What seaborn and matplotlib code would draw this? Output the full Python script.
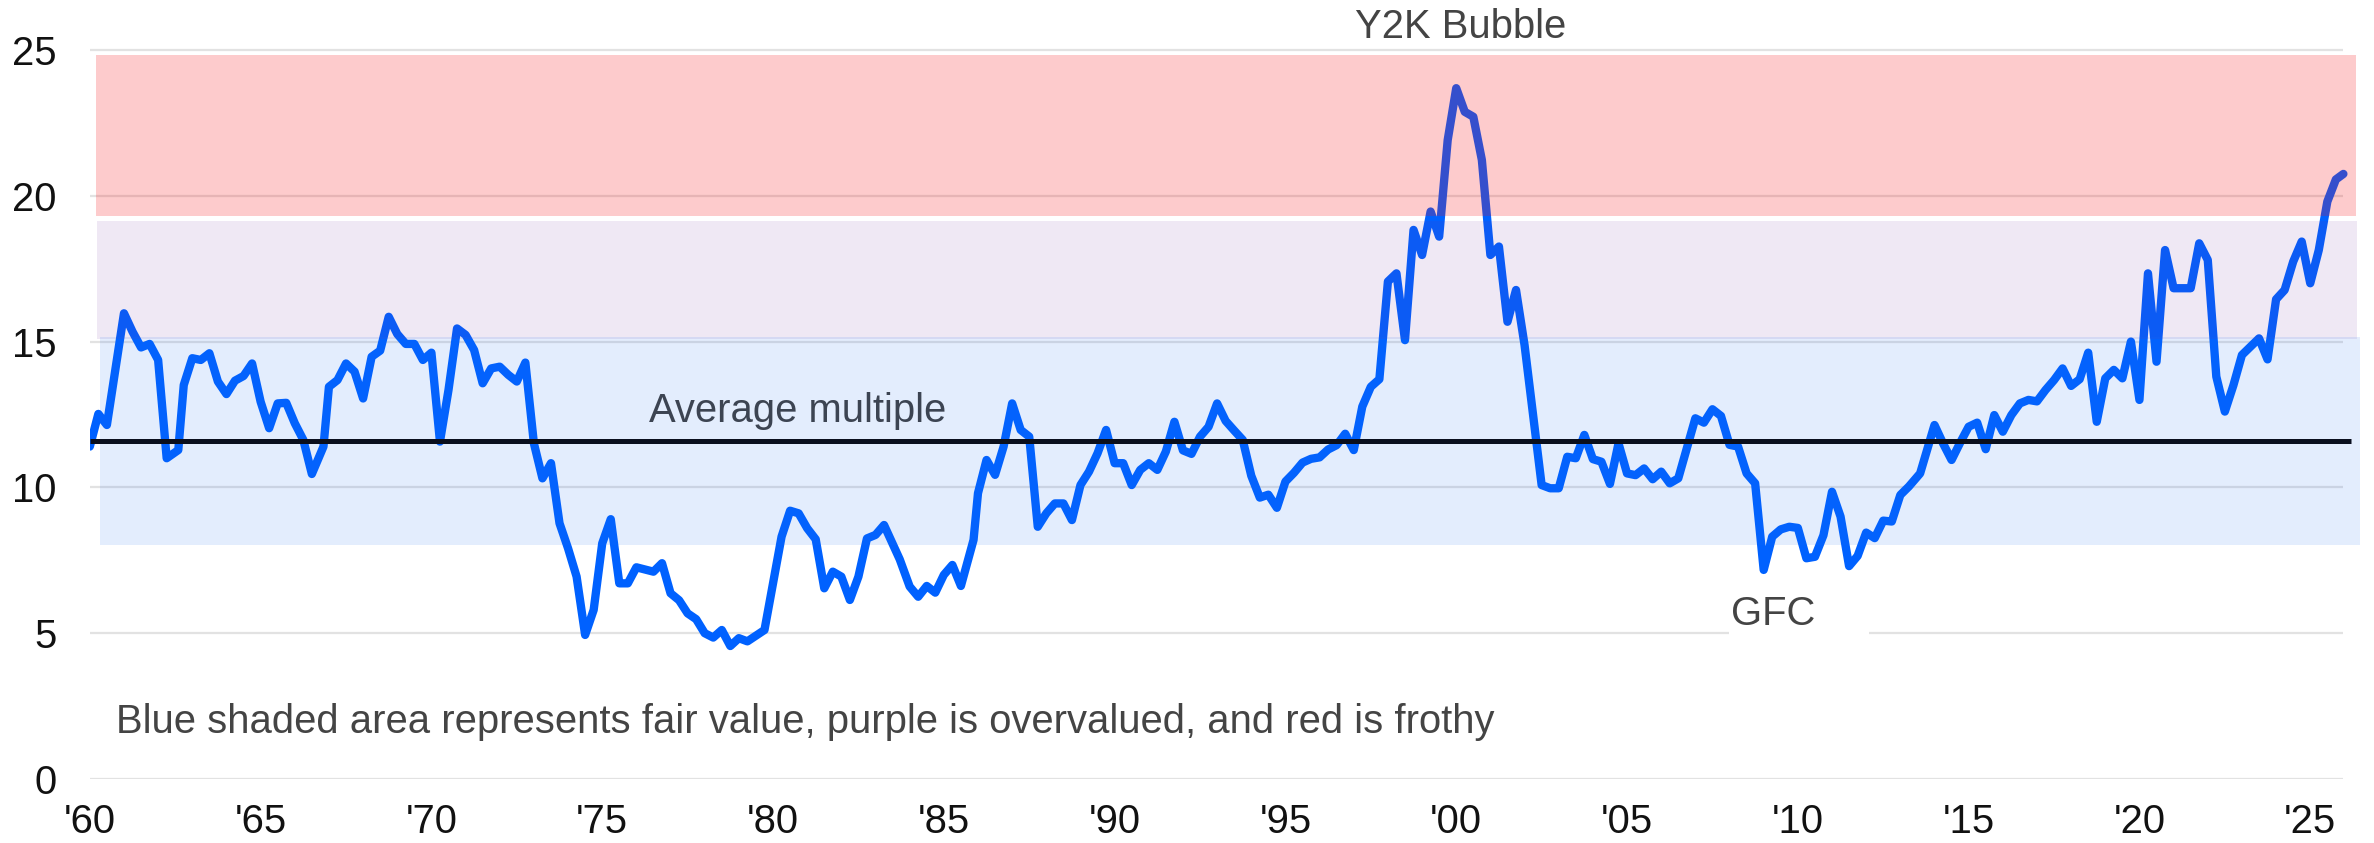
import matplotlib
matplotlib.use("Agg")
import matplotlib.pyplot as plt
import seaborn as sns
import pandas as pd
from matplotlib.patches import Rectangle

# ---------------- data ----------------
years = [
    1960.0, 1960.25, 1960.5, 1961.0, 1961.25, 1961.5, 1961.75, 1962.0, 1962.25, 1962.59,
    1962.75, 1963.0, 1963.25, 1963.5, 1963.75, 1964.0, 1964.25, 1964.5, 1964.75, 1965.0,
    1965.25, 1965.5, 1965.75, 1966.0, 1966.25, 1966.5, 1966.84, 1967.0, 1967.25, 1967.5,
    1967.75, 1968.0, 1968.25, 1968.5, 1968.75, 1969.0, 1969.25, 1969.5, 1969.75, 1970.0,
    1970.25, 1970.5, 1970.75, 1971.0, 1971.25, 1971.5, 1971.75, 1972.0, 1972.25, 1972.5,
    1972.75, 1973.0, 1973.25, 1973.5, 1973.75, 1974.0, 1974.25, 1974.5, 1974.75, 1975.0,
    1975.25, 1975.5, 1975.75, 1976.0, 1976.5, 1976.75, 1977.0, 1977.25, 1977.5, 1977.75,
    1978.0, 1978.25, 1978.5, 1978.75, 1979.0, 1979.25, 1979.75, 1980.0, 1980.25, 1980.5,
    1980.75, 1981.0, 1981.25, 1981.5, 1981.75, 1982.0, 1982.25, 1982.5, 1982.75, 1983.0,
    1983.25, 1983.71, 1984.0, 1984.25, 1984.5, 1984.75, 1985.0, 1985.25, 1985.5, 1985.87,
    1986.0, 1986.25, 1986.5, 1986.75, 1987.0, 1987.25, 1987.5, 1987.75, 1988.0, 1988.25,
    1988.5, 1988.75, 1989.0, 1989.25, 1989.5, 1989.75, 1990.0, 1990.25, 1990.5, 1990.75,
    1991.0, 1991.25, 1991.5, 1991.75, 1992.0, 1992.25, 1992.5, 1992.75, 1993.0, 1993.25,
    1993.5, 1993.75, 1994.0, 1994.25, 1994.5, 1994.75, 1995.0, 1995.25, 1995.5, 1995.75,
    1996.0, 1996.25, 1996.5, 1996.75, 1997.0, 1997.25, 1997.5, 1997.75, 1998.0, 1998.25,
    1998.5, 1998.75, 1999.0, 1999.25, 1999.5, 1999.75, 2000.0, 2000.25, 2000.5, 2000.75,
    2001.0, 2001.25, 2001.5, 2001.75, 2002.0, 2002.5, 2002.75, 2003.0, 2003.25, 2003.5,
    2003.75, 2004.0, 2004.25, 2004.5, 2004.75, 2005.0, 2005.25, 2005.5, 2005.75, 2006.0,
    2006.25, 2006.5, 2007.0, 2007.25, 2007.5, 2007.75, 2008.0, 2008.25, 2008.5, 2008.75,
    2009.0, 2009.25, 2009.5, 2009.75, 2010.0, 2010.25, 2010.5, 2010.75, 2011.0, 2011.25,
    2011.5, 2011.75, 2012.0, 2012.25, 2012.5, 2012.75, 2013.0, 2013.25, 2013.58, 2014.0,
    2014.25, 2014.5, 2014.75, 2015.0, 2015.25, 2015.5, 2015.75, 2016.0, 2016.25, 2016.5,
    2016.75, 2017.0, 2017.25, 2017.5, 2017.75, 2018.0, 2018.25, 2018.5, 2018.75, 2019.0,
    2019.25, 2019.5, 2019.75, 2020.0, 2020.25, 2020.5, 2020.75, 2021.0, 2021.5, 2021.75,
    2022.0, 2022.25, 2022.5, 2022.75, 2023.0, 2023.5, 2023.75, 2024.0, 2024.25, 2024.5,
    2024.75, 2025.0, 2025.25, 2025.5, 2025.75, 2025.97,
]
multiple = [
    11.40, 12.52, 12.14, 15.97, 15.34, 14.80, 14.92, 14.37, 11.00, 11.28,
    13.51, 14.43, 14.37, 14.60, 13.63, 13.20, 13.66, 13.82, 14.25, 12.94,
    12.03, 12.88, 12.90, 12.20, 11.63, 10.46, 11.40, 13.45, 13.68, 14.25,
    13.97, 13.05, 14.48, 14.69, 15.85, 15.26, 14.92, 14.92, 14.37, 14.62,
    11.57, 13.34, 15.45, 15.23, 14.71, 13.57, 14.08, 14.14, 13.86, 13.63,
    14.28, 11.51, 10.31, 10.83, 8.77, 7.91, 6.94, 4.94, 5.80, 8.08,
    8.91, 6.71, 6.71, 7.26, 7.11, 7.40, 6.37, 6.13, 5.68, 5.48,
    5.00, 4.85, 5.11, 4.56, 4.83, 4.72, 5.11, 6.71, 8.31, 9.20,
    9.11, 8.60, 8.22, 6.54, 7.11, 6.94, 6.14, 6.94, 8.25, 8.37,
    8.71, 7.53, 6.60, 6.25, 6.62, 6.39, 7.00, 7.34, 6.62, 8.20,
    9.80, 10.94, 10.43, 11.40, 12.88, 11.97, 11.74, 8.65, 9.11, 9.45,
    9.45, 8.88, 10.08, 10.54, 11.17, 11.97, 10.83, 10.83, 10.08, 10.60,
    10.83, 10.60, 11.23, 12.25, 11.27, 11.15, 11.74, 12.08, 12.88, 12.28,
    11.95, 11.63, 10.40, 9.65, 9.75, 9.30, 10.20, 10.50, 10.85, 10.98,
    11.03, 11.30, 11.45, 11.84, 11.28, 12.77, 13.45, 13.71, 17.06, 17.34,
    15.05, 18.83, 17.97, 19.46, 18.60, 21.91, 23.69, 22.88, 22.71, 21.23,
    17.97, 18.26, 15.68, 16.77, 14.88, 10.08, 9.97, 9.97, 11.05, 11.00,
    11.80, 10.97, 10.88, 10.12, 11.51, 10.48, 10.42, 10.65, 10.28, 10.54,
    10.14, 10.31, 12.37, 12.22, 12.68, 12.45, 11.46, 11.40, 10.48, 10.14,
    7.17, 8.31, 8.56, 8.65, 8.61, 7.57, 7.62, 8.36, 9.85, 9.00,
    7.30, 7.65, 8.45, 8.26, 8.86, 8.83, 9.74, 10.03, 10.48, 12.14,
    11.51, 10.94, 11.53, 12.08, 12.22, 11.31, 12.48, 11.91, 12.48, 12.88,
    13.00, 12.95, 13.34, 13.68, 14.08, 13.48, 13.71, 14.62, 12.25, 13.74,
    14.03, 13.74, 15.00, 13.00, 17.34, 14.31, 18.14, 16.83, 16.83, 18.37,
    17.80, 13.80, 12.60, 13.50, 14.54, 15.11, 14.39, 16.45, 16.77, 17.74,
    18.43, 17.00, 18.14, 19.80, 20.56, 20.75,
]
average_multiple = 11.58

# valuation bands: (low, high)
fair_band = (8.02, 15.15)
over_band = (15.10, 19.15)
frothy_band = (19.31, 24.83)

y_ticks = [0, 5, 10, 15, 20, 25]
x_ticks = [1960, 1965, 1970, 1975, 1980, 1985, 1990, 1995, 2000, 2005, 2010, 2015, 2020, 2025]
x_labels = ["'60", "'65", "'70", "'75", "'80", "'85", "'90", "'95", "'00", "'05", "'10", "'15", "'20", "'25"]

note = "Blue shaded area represents fair value, purple is overvalued, and red is frothy"

# ---------------- figure ----------------
sns.set_theme(style="white")
plt.rcParams["font.family"] = ["Liberation Sans", "DejaVu Sans"]

W, H, DPI = 2374, 843, 100
fig = plt.figure(figsize=(W / DPI, H / DPI), dpi=DPI)
ax = fig.add_axes([0.03783, 0.07592, 0.9569, 0.8717])

df = pd.DataFrame({"year": years, "multiple": multiple})

# gridlines (drawn manually so they stop at the end of the data)
ax.hlines(y_ticks, 1960, 2025.95, colors="#e2e2e2", linewidth=1.6, zorder=1)

line_ax = sns.lineplot(data=df, x="year", y="multiple", ax=ax, color="#0061ff",
                       linewidth=6.0, zorder=2, legend=False)
for ln in line_ax.get_lines():
    ln.set_linewidth(6.0)
    ln.set_solid_joinstyle("round")
    ln.set_solid_capstyle("round")

# translucent valuation bands over the line
ax.fill_between([1960.18, 2026.35], frothy_band[0], frothy_band[1],
                color=(246 / 255, 19 / 255, 23 / 255), alpha=0.22, linewidth=0, zorder=3)
ax.fill_between([1960.21, 2026.37], over_band[0], over_band[1],
                color=(110 / 255, 50 / 255, 160 / 255), alpha=0.11, linewidth=0, zorder=3)
ax.fill_between([1960.30, 2026.46], fair_band[0], fair_band[1],
                color=(30 / 255, 110 / 255, 240 / 255), alpha=0.12, linewidth=0, zorder=3)

# average line
ax.hlines(average_multiple, 1960, 2026.2, colors="#0a0f1e", linewidth=3.6, zorder=4)

# GFC label with white patch interrupting the gridline
ax.add_patch(Rectangle((2007.98, 4.75), 4.1, 1.9, facecolor="white",
                       edgecolor="none", zorder=3.5))

fs = 28.8
ax.text(1976.38, 12.25, "Average multiple", fontsize=fs, color="#3c4452",
        ha="left", va="baseline", zorder=5)
ax.text(1960.77, 1.57, note, fontsize=fs, color="#444444",
        ha="left", va="baseline", zorder=5)
ax.text(1997.04, 25.40, "Y2K Bubble", fontsize=fs, color="#444444",
        ha="left", va="baseline", zorder=5, clip_on=False)
ax.text(2008.05, 5.28, "GFC", fontsize=fs, color="#444444",
        ha="left", va="baseline", zorder=5)

ax.set_xlim(1960, 2026.5)
ax.set_ylim(0, 25.2)
ax.set_xticks(x_ticks)
ax.set_xticklabels(x_labels)
ax.set_yticks(y_ticks)
ax.set_yticklabels([str(v) for v in y_ticks])
ax.tick_params(axis="both", length=0, labelsize=fs, colors="#111111")
ax.tick_params(axis="y", pad=24)
ax.tick_params(axis="x", pad=17)
ax.set_xlabel("")
ax.set_ylabel("")
ax.grid(False)
for s in ax.spines.values():
    s.set_visible(False)
ax.set_facecolor("white")
fig.patch.set_facecolor("white")

fig.savefig("out.png", dpi=DPI, facecolor="white")
